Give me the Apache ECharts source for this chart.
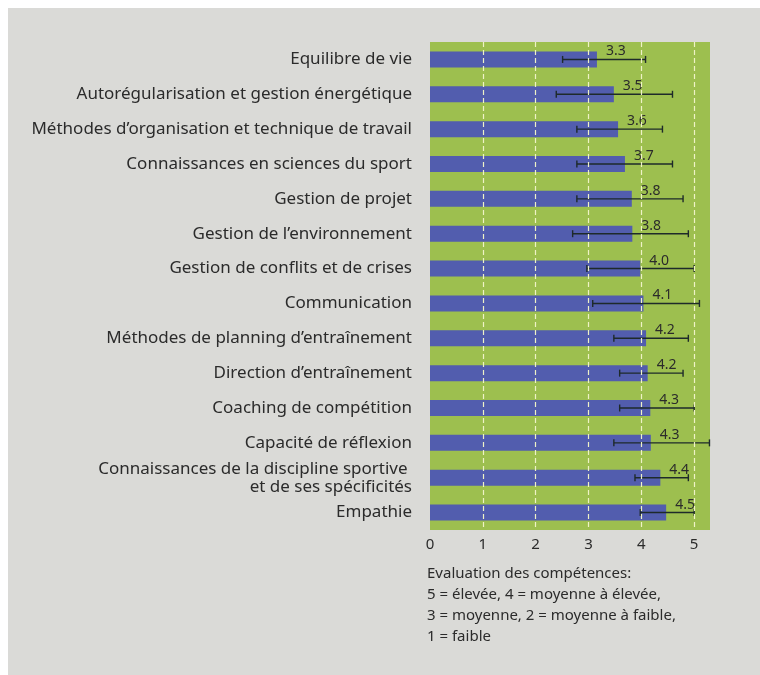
<!DOCTYPE html>
<html>
<head>
<meta charset="utf-8">
<script src="https://cdn.jsdelivr.net/npm/echarts@6/dist/echarts.min.js"></script>
<style>
  html, body {margin: 0; padding: 0; background: #fff;}
  #chart {width: 760px; height: 675px;}
</style>
</head>
<body>
<div id="chart"></div>
<script>
// competences, top to bottom
const categories = [
  'Equilibre de vie',
  'Autorégularisation et gestion énergétique',
  'Méthodes d’organisation et technique de travail',
  'Connaissances en sciences du sport',
  'Gestion de projet',
  'Gestion de l’environnement',
  'Gestion de conflits et de crises',
  'Communication',
  'Méthodes de planning d’entraînement',
  'Direction d’entraînement',
  'Coaching de compétition',
  'Capacité de réflexion',
  'Connaissances de la discipline sportive \net de ses spécificités',
  'Empathie',
]
// bar ends as drawn
const means = [3.16, 3.48, 3.56, 3.69, 3.82, 3.83, 3.98, 4.04, 4.09, 4.12, 4.17, 4.18, 4.36, 4.47]
// printed values
const meanLabels = ['3.3', '3.5', '3.6', '3.7', '3.8', '3.8', '4.0', '4.1', '4.2', '4.2', '4.3', '4.3', '4.4', '4.5']
// whiskers
const lows = [2.51, 2.39, 2.78, 2.78, 2.78, 2.70, 2.97, 3.08, 3.48, 3.59, 3.59, 3.48, 3.88, 3.98]
const highs = [4.08, 4.59, 4.40, 4.59, 4.79, 4.89, 5.0, 5.10, 4.89, 4.79, 5.0, 5.29, 4.89, 5.0]
const ticks = [1, 2, 3, 4, 5]

const footnote = [
  'Evaluation des compétences:',
  '5 = élevée, 4 = moyenne à élevée,',
  '3 = moyenne, 2 = moyenne à faible,',
  '1 = faible',
]

const font = '"Noto Sans", "Open Sans", sans-serif'
const textColor = '#2b2b2b'

const chart = echarts.init(document.getElementById('chart'))

const errData = categories.map((c, i) => [i, lows[i], highs[i]])

const renderErr = (params, api) => {
  const i = api.value(0)
  const p1 = api.coord([api.value(1), i])
  const p2 = api.coord([api.value(2), i])
  const cap = 3.5
  const style = {stroke: '#1e2a2a', lineWidth: 1.4}
  return {
    type: 'group',
    children: [
      {type: 'line', shape: {x1: p1[0], y1: p1[1], x2: p2[0], y2: p2[1]}, style},
      {type: 'line', shape: {x1: p1[0], y1: p1[1] - cap, x2: p1[0], y2: p1[1] + cap}, style},
      {type: 'line', shape: {x1: p2[0], y1: p2[1] - cap, x2: p2[0], y2: p2[1] + cap}, style},
    ],
  }
}

chart.setOption({
  backgroundColor: '#ffffff',
  animation: false,
  textStyle: {fontFamily: font},
  graphic: [
    {
      type: 'rect',
      z: -10,
      shape: {x: 8, y: 8, width: 752, height: 667},
      style: {fill: '#dadad7'},
    },
    {
      type: 'text',
      left: 427,
      top: 563,
      style: {
        text: footnote.join('\n'),
        font: `15px ${font}`,
        lineHeight: 21,
        fill: textColor,
      },
    },
  ],
  grid: {
    left: 430,
    right: 50,
    top: 42,
    bottom: 145,
    show: true,
    backgroundColor: '#9dbf4f',
    borderWidth: 0,
  },
  xAxis: {
    type: 'value',
    min: 0,
    max: 5.3,
    interval: 1,
    axisLine: {show: false},
    axisTick: {show: false},
    splitLine: {show: false},
    axisLabel: {
      showMaxLabel: false,
      margin: 7,
      fontSize: 15,
      color: textColor,
      fontFamily: font,
    },
  },
  yAxis: {
    type: 'category',
    inverse: true,
    data: categories,
    axisLine: {show: false},
    axisTick: {show: false},
    axisLabel: {
      margin: 18,
      fontSize: 17,
      lineHeight: 18,
      color: textColor,
      fontFamily: font,
    },
  },
  series: [
    {
      // dashed gridlines behind the bars
      type: 'line',
      data: [],
      z: 1,
      markLine: {
        silent: true,
        symbol: 'none',
        label: {show: false},
        lineStyle: {color: '#eef2c6', type: [5, 3], width: 1.2},
        data: ticks.map(t => ({xAxis: t})),
      },
    },
    {
      type: 'bar',
      z: 2,
      data: means,
      barWidth: 16,
      itemStyle: {color: '#525dae'},
      label: {
        show: true,
        position: 'right',
        distance: 9,
        offset: [0, -8],
        fontSize: 14,
        color: textColor,
        fontFamily: font,
        formatter: p => meanLabels[p.dataIndex],
      },
    },
    {
      type: 'custom',
      z: 3,
      renderItem: renderErr,
      encode: {x: [1, 2], y: 0},
      data: errData,
    },
  ],
})
</script>
</body>
</html>
